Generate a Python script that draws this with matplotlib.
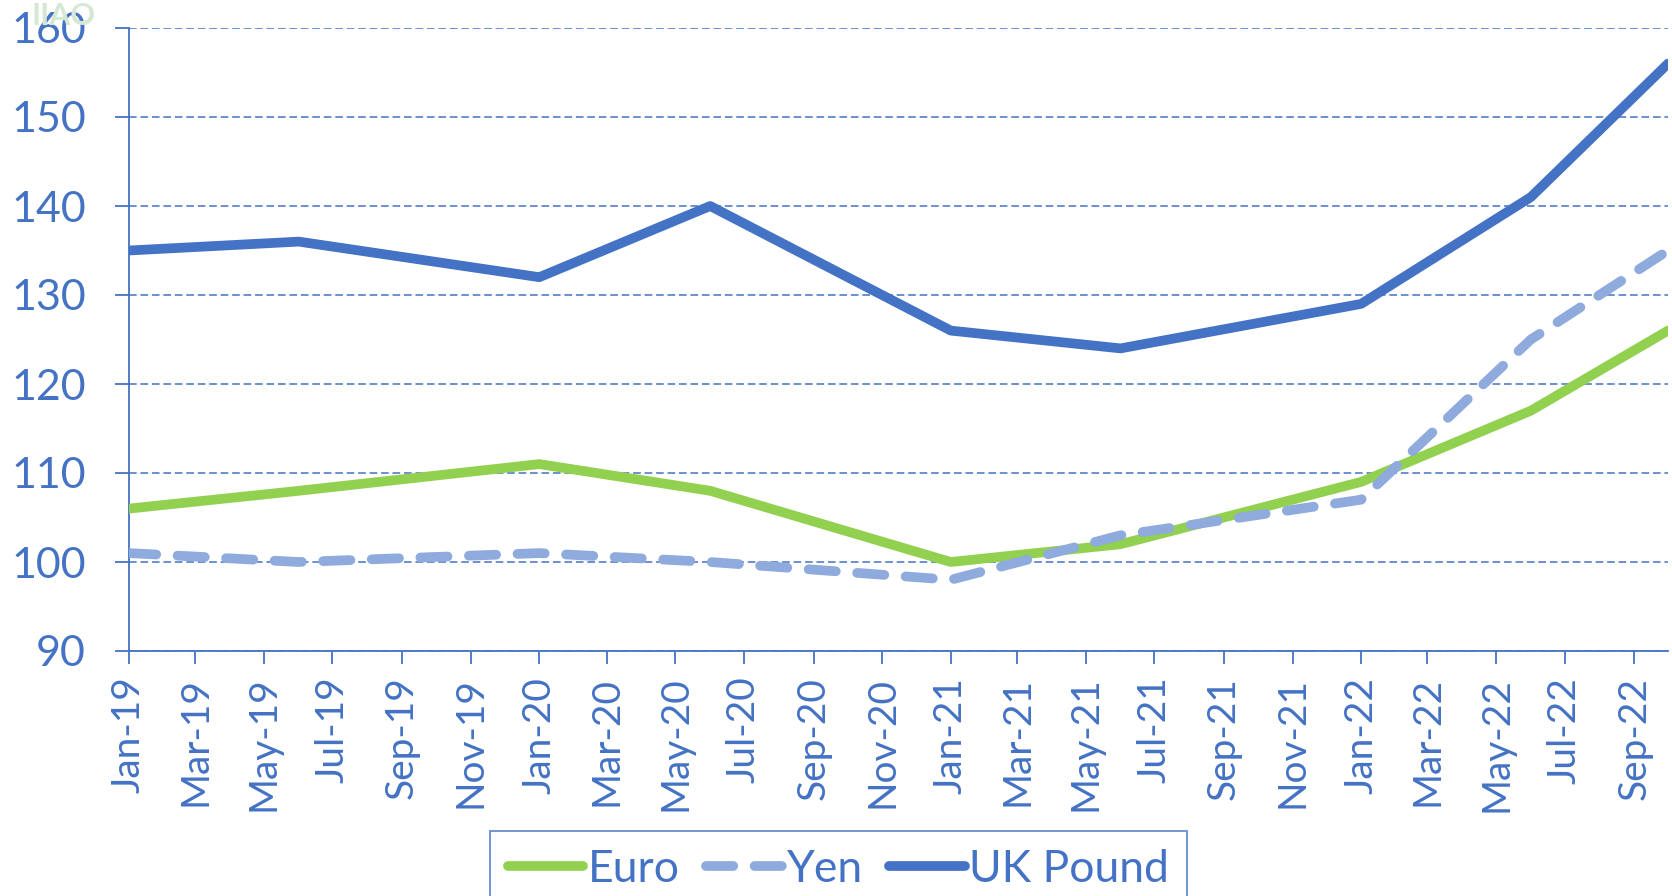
import datetime as dt
import matplotlib
matplotlib.use("Agg")
import matplotlib.pyplot as plt
import matplotlib.dates as mdates

# data (index values)
dates = ["2019-01", "2019-06", "2020-01", "2020-06", "2021-01",
         "2021-06", "2022-01", "2022-06", "2022-10"]
euro = [106, 108, 111, 108, 100, 102, 109, 117, 126]
yen = [101, 100, 101, 100, 98, 103, 107, 125, 135]
uk_pound = [135, 136, 132, 140, 126, 124, 129, 141, 156]
y_ticks = [90, 100, 110, 120, 130, 140, 150, 160]

BLUE = "#4472C4"
x = [dt.datetime.strptime(d, "%Y-%m") for d in dates]

plt.rcParams["font.family"] = ["Lato", "DejaVu Sans"]

W, H = 1672, 896
fig = plt.figure(figsize=(W / 100, H / 100), dpi=100)
ax = fig.add_axes([129 / W, 1 - 651 / H, (1668 - 129) / W, (651 - 28) / H])

# faint logo watermark behind the top-left corner
fig.text(32 / W, 1 - 16 / H, "IIAO", color="#d5e8d5", fontsize=22,
         fontweight="bold", va="center", ha="left", zorder=0)

ax.plot(x, euro, color="#92D050", lw=7, solid_capstyle="round",
        solid_joinstyle="round", label="Euro", zorder=3)
ax.plot(x, yen, color="#8FAADC", lw=7, dashes=(2.8, 2.2),
        dash_capstyle="round", dash_joinstyle="round", label="Yen", zorder=4)
ax.plot(x, uk_pound, color=BLUE, lw=7, solid_capstyle="round",
        solid_joinstyle="round", label="UK Pound", zorder=3)

ax.set_ylim(90, 160)
ax.set_yticks(y_ticks)
ax.set_xlim(x[0], x[-1])
ax.xaxis.set_major_locator(mdates.MonthLocator(bymonth=[1, 3, 5, 7, 9, 11]))
ax.xaxis.set_major_formatter(mdates.DateFormatter("%b-%y"))

ax.yaxis.grid(True, color=BLUE, lw=1.1, linestyle=(0, (5, 2.5)))
ax.set_axisbelow(True)

for s in ["top", "right"]:
    ax.spines[s].set_visible(False)
for s in ["left", "bottom"]:
    ax.spines[s].set_color(BLUE)
    ax.spines[s].set_linewidth(1.3)

ax.tick_params(axis="y", colors=BLUE, labelsize=31, length=10, width=1.3,
               pad=21)
ax.tick_params(axis="x", colors=BLUE, labelsize=28, length=9.5, width=1.3,
               pad=9, labelrotation=90)

leg = fig.legend(loc="upper left", bbox_to_anchor=(490 / W, 1 - 831 / H),
                 ncol=3, fontsize=32, frameon=True, fancybox=False,
                 borderaxespad=0, handlelength=1.7, handletextpad=0.1,
                 columnspacing=0.6, borderpad=0.4)
leg.get_frame().set_edgecolor(BLUE)
leg.get_frame().set_linewidth(1.3)
for t in leg.get_texts():
    t.set_color(BLUE)

fig.savefig("out.png", dpi=100)
